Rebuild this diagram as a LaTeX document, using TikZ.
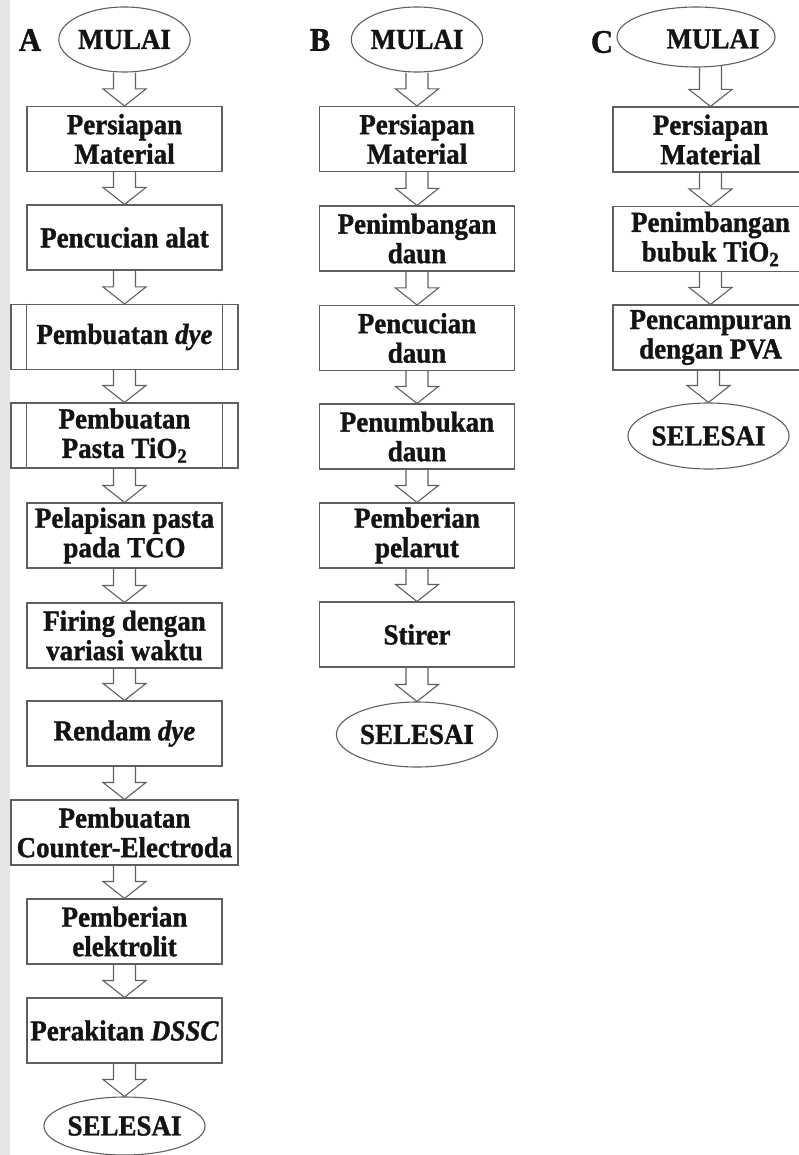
\documentclass[tikz,border=0pt]{standalone}
\usepackage{fontspec}
\setmainfont{Liberation Serif}
\newfontfamily\tnr{Liberation Serif}[FakeStretch=0.93,BoldFeatures={FakeBold=1.2},BoldItalicFeatures={FakeBold=1.2}]
\usetikzlibrary{shapes.geometric,calc}
\definecolor{linec}{RGB}{95,95,95}
\definecolor{txtc}{RGB}{20,20,20}
\newcommand{\fz}{\tnr\fontsize{29}{29.5}\selectfont\bfseries}
\newcommand{\flowarrow}[3][0]{%
  \draw[flow] let \p1=(#2.south), \p2=(#3.north) in
    (\x2-11pt,\y1) -- (\x2-11pt,\y2+17pt) -- (\x2-21.5pt,\y2+17pt) -- (\x2,\y2)
    -- (\x2+21.5pt,\y2+17pt) -- (\x2+11pt,\y2+17pt) -- (\x2+11pt,\y1+#1pt);}
\begin{document}
\begin{tikzpicture}[x=1pt,y=-1pt,
  stepbox/.style={draw=linec,line width=1.1pt,minimum width=195pt,minimum height=65pt,
    inner sep=0pt,align=center,font=\fz,text=txtc},
  widebox/.style={stepbox,minimum width=227pt},
  term/.style={ellipse,draw=linec,line width=1.1pt,inner sep=0pt,font=\fz,text=txtc},
  plain/.style={inner sep=0pt,font=\fz,text=txtc},
  lbl/.style={inner sep=0pt,font=\tnr\fontsize{33}{33}\selectfont\bfseries,text=txtc},
  flow/.style={draw=linec,line width=1.1pt,line join=miter}]
\useasboundingbox (0,0) rectangle (798,1155);
\fill[gray!20] (0,0) rectangle (10,1155);

% ---------- Column A ----------
\node[lbl] (la) at (30,40) {A};
\node[term,minimum width=131pt,minimum height=65pt] (amulai) at (124.5,39.5) {MULAI};
\node[stepbox] (a1) at (124.5,139) {Persiapan\\Material};
\node[stepbox] (a2) at (124.5,237.5) {Pencucian alat};
\node[widebox] (a3) at (124.5,337) {Pembuatan \textit{dye}};
\node[widebox] (a4) at (124.5,435.5) {Pembuatan\\Pasta TiO\textsubscript{2}};
\node[stepbox] (a5) at (124.5,535.5) {Pelapisan pasta\\pada TCO};
\node[stepbox] (a6) at (124.5,635.5) {Firing dengan\\variasi waktu};
\node[stepbox] (a7) at (124.5,733.5) {Rendam \textit{dye}};
\node[widebox] (a8) at (124.5,832.5) {Pembuatan\\Counter-Electroda};
\node[stepbox] (a9) at (124.5,931.5) {Pemberian\\elektrolit};
\node[stepbox] (a10) at (124.5,1030.5) {Perakitan \textit{DSSC}};
\node[term,minimum width=131pt,minimum height=58pt] (aend) at (124.5,1126) {SELESAI};

\foreach \n in {a3,a4}{
  \draw[flow] ([xshift=16pt]\n.north west) -- ([xshift=16pt]\n.south west);
  \draw[flow] ([xshift=-16pt]\n.north east) -- ([xshift=-16pt]\n.south east);
}

\flowarrow{amulai}{a1}
\flowarrow{a1}{a2}
\flowarrow{a2}{a3}
\flowarrow{a3}{a4}
\flowarrow{a4}{a5}
\flowarrow{a5}{a6}
\flowarrow{a6}{a7}
\flowarrow{a7}{a8}
\flowarrow{a8}{a9}
\flowarrow{a9}{a10}
\flowarrow{a10}{aend}

% ---------- Column B ----------
\node[lbl] (lb) at (320,40) {B};
\node[term,minimum width=130pt,minimum height=65pt] (bmulai) at (417,39.5) {MULAI};
\node[stepbox] (b1) at (417,139) {Persiapan\\Material};
\node[stepbox] (b2) at (417,238.5) {Penimbangan\\daun};
\node[stepbox] (b3) at (417,338) {Pencucian\\daun};
\node[stepbox] (b4) at (417,436.5) {Penumbukan\\daun};
\node[stepbox] (b5) at (417,535.5) {Pemberian\\pelarut};
\node[stepbox] (b6) at (417,634.5) {Stirer};
\node[term,minimum width=131pt,minimum height=65pt] (bend) at (417,734.5) {SELESAI};

\flowarrow{bmulai}{b1}
\flowarrow{b1}{b2}
\flowarrow{b2}{b3}
\flowarrow{b3}{b4}
\flowarrow{b4}{b5}
\flowarrow{b5}{b6}
\flowarrow{b6}{bend}

% ---------- Column C ----------
\node[lbl] (lc) at (602,42) {C};
\node[term,minimum width=158pt,minimum height=60pt] (cmulai) at (696,37) {};
\node[plain] (cmulaitext) at (713,39) {MULAI};
\node[stepbox] (c1) at (710.5,139.5) {Persiapan\\Material};
\node[stepbox] (c2) at (710.5,239) {Penimbangan\\bubuk TiO\textsubscript{2}};
\node[stepbox] (c3) at (710.5,337.5) {Pencampuran\\dengan PVA};
\node[term,minimum width=129pt,minimum height=66pt] (cend) at (708.5,436) {SELESAI};

\flowarrow[1.65]{cmulai}{c1}
\flowarrow{c1}{c2}
\flowarrow{c2}{c3}
\flowarrow{c3}{cend}
\end{tikzpicture}
\end{document}
